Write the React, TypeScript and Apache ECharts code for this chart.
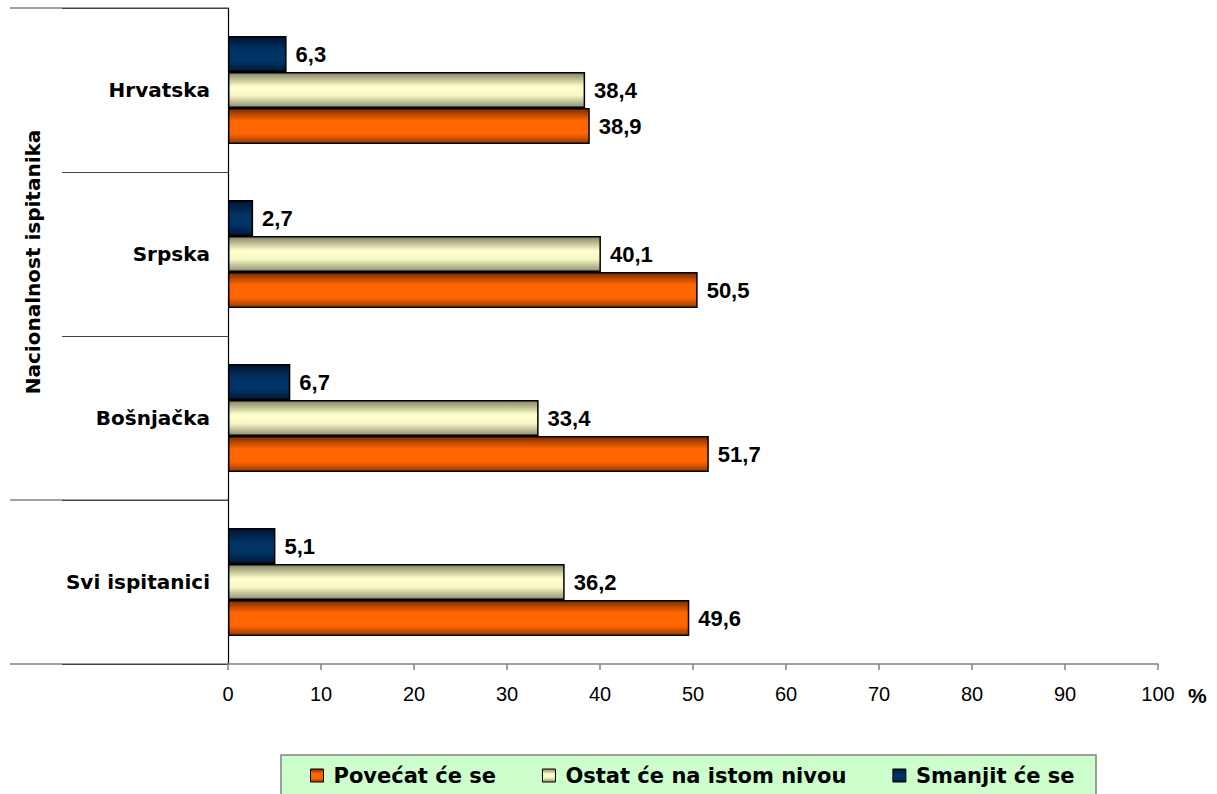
import React, { useEffect, useRef } from "react";
import * as echarts from "echarts";

const categories = ["Svi ispitanici", "Bošnjačka", "Srpska", "Hrvatska"];
const seriesNames = ["Povećat će se", "Ostat će na istom nivou", "Smanjit će se"];
const povecat = [49.6, 51.7, 50.5, 38.9];
const ostat = [36.2, 33.4, 40.1, 38.4];
const smanjit = [5.1, 6.7, 2.7, 6.3];
const axisName = "Nacionalnost ispitanika";
const unitLabel = "%";

const FONT = "'Liberation Sans', Arial, Helvetica, sans-serif";
const WIDE = "'DejaVu Sans', 'Liberation Sans', Arial, sans-serif";

const grad = (stops: [number, string][]) =>
  new echarts.graphic.LinearGradient(
    0, 0, 0, 1,
    stops.map(([offset, color]) => ({ offset, color }))
  );

const orangeFill = grad([
  [0, "#7a2d00"],
  [0.35, "#ff6600"],
  [0.72, "#ff6600"],
  [1, "#9a3a00"],
]);
const beigeFill = grad([
  [0, "#858565"],
  [0.4, "#ffffcc"],
  [0.65, "#f8f8c6"],
  [1, "#8f8f70"],
]);
const blueFill = grad([
  [0, "#001530"],
  [0.4, "#003366"],
  [0.7, "#003366"],
  [1, "#00193a"],
]);

export default function App() {
  const ref = useRef<HTMLDivElement>(null);

  useEffect(() => {
    if (!ref.current) return;
    const chart = echarts.init(ref.current, null, { renderer: "svg" });

    const labelCfg = {
      show: true,
      position: "right",
      distance: 9,
      color: "#000",
      fontFamily: FONT,
      fontWeight: "bold",
      fontSize: 22,
      formatter: (p: any) => String(p.value).replace(".", ","),
    };

    const mkSeries = (name: string, data: number[], fill: any) => ({
      name,
      type: "bar",
      data,
      barWidth: 36,
      barGap: "0%",
      itemStyle: { color: fill, borderColor: "#000", borderWidth: 1.5 },
      label: labelCfg,
      emphasis: { disabled: true },
    });

    chart.setOption({
      animation: false,
      textStyle: { fontFamily: FONT },
      grid: {
        left: 228,
        right: 59,
        top: 8,
        bottom: 130,
        containLabel: false,
        outerBoundsMode: "none",
      },
      xAxis: {
        type: "value",
        min: 0,
        max: 100,
        interval: 10,
        splitLine: { show: false },
        axisLine: { show: true, lineStyle: { color: "#808080", width: 1.5 } },
        axisTick: { show: true, length: 6, lineStyle: { color: "#808080", width: 1.5 } },
        axisLabel: { color: "#000", fontSize: 20, margin: 20, fontFamily: FONT },
      },
      yAxis: {
        type: "category",
        data: categories,
        axisLine: { show: true, lineStyle: { color: "#000", width: 1.2 } },
        axisTick: { show: true, length: 166, lineStyle: { color: "#444", width: 1.2 } },
        axisLabel: {
          color: "#000",
          fontSize: 20,
          fontWeight: "bold",
          margin: 18,
          fontFamily: WIDE,
        },
      },
      legend: {
        left: 310,
        top: 765,
        itemWidth: 13,
        itemHeight: 13,
        itemGap: 46,
        padding: 0,
        icon: "rect",
        data: seriesNames,
        itemStyle: { borderColor: "#000", borderWidth: 1 },
        textStyle: {
          color: "#000",
          fontSize: 21,
          fontWeight: "bold",
          fontFamily: WIDE,
          padding: [0, 0, 0, 5],
        },
        selectedMode: false,
      },
      graphic: [
        {
          type: "rect",
          z: -1,
          shape: { x: 281, y: 755, width: 815, height: 60 },
          style: { fill: "#ccffcc", stroke: "#808080", lineWidth: 1.5 },
        },
        {
          type: "line",
          shape: { x1: 10, y1: 8, x2: 228, y2: 8 },
          style: { stroke: "#444", lineWidth: 1.2 },
        },
        {
          type: "line",
          shape: { x1: 10, y1: 500, x2: 228, y2: 500 },
          style: { stroke: "#444", lineWidth: 1.2 },
        },
        {
          type: "line",
          shape: { x1: 10, y1: 664, x2: 228, y2: 664 },
          style: { stroke: "#444", lineWidth: 1.2 },
        },
        {
          type: "text",
          x: 33,
          y: 262,
          rotation: Math.PI / 2,
          style: {
            text: axisName,
            fill: "#000",
            font: `bold 20px ${WIDE}`,
            textAlign: "center",
            textVerticalAlign: "middle",
          },
        },
        {
          type: "text",
          x: 1188,
          y: 695,
          style: {
            text: unitLabel,
            fill: "#000",
            font: `bold 21px ${FONT}`,
            textAlign: "left",
            textVerticalAlign: "middle",
          },
        },
      ],
      series: [
        mkSeries(seriesNames[2], smanjit, blueFill),
        mkSeries(seriesNames[1], ostat, beigeFill),
        mkSeries(seriesNames[0], povecat, orangeFill),
      ],
    });

    return () => chart.dispose();
  }, []);

  return (
    <div
      ref={ref}
      style={{ position: "absolute", left: 0, top: 0, width: 1217, height: 794 }}
    />
  );
}
